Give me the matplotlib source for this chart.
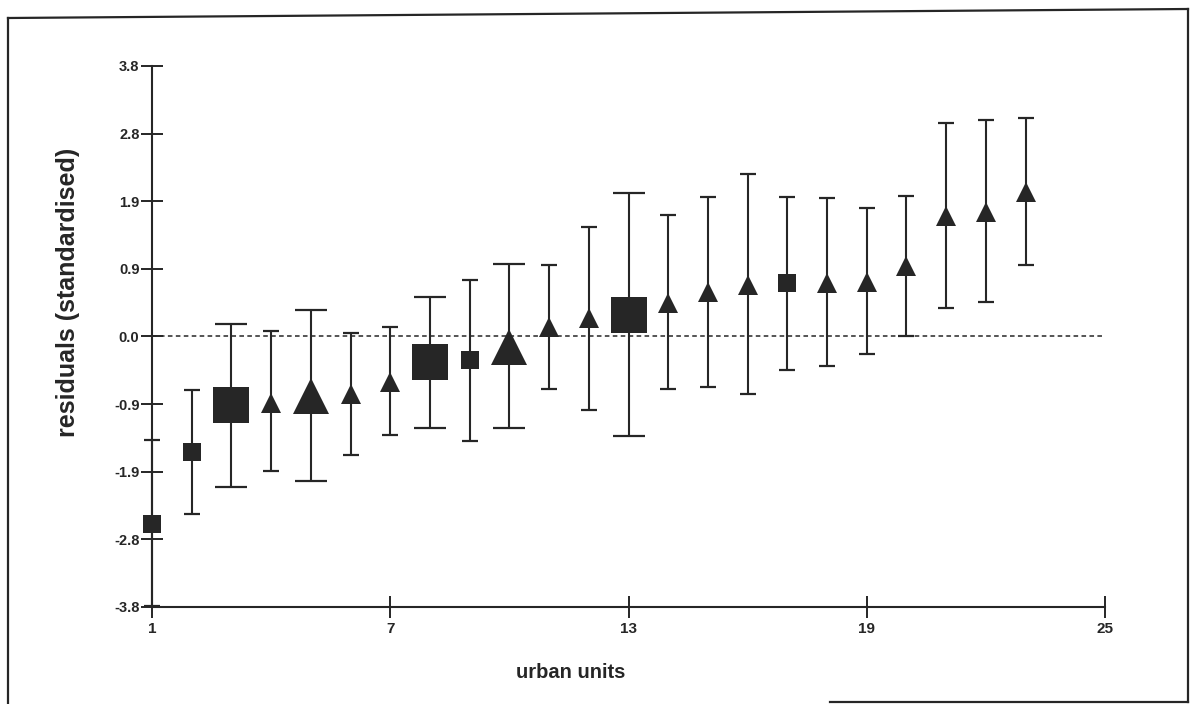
import matplotlib
matplotlib.use("Agg")
import matplotlib.pyplot as plt
import numpy as np
from matplotlib.lines import Line2D

plt.rcParams['font.family'] = ['Liberation Sans', 'DejaVu Sans']

# urban units 1..23, residual with lower / upper interval
units = list(range(1, 24))
residual = [-2.63, -1.62, -0.96, -0.93, -0.83, -0.81, -0.64, -0.36, -0.33, -0.15,
            0.13, 0.26, 0.30, 0.47, 0.62, 0.73, 0.75, 0.75, 0.76, 0.99,
            1.69, 1.75, 2.03]
upper = [-1.46, -0.75, 0.18, 0.07, 0.37, 0.05, 0.13, 0.56, 0.80, 1.02,
         1.01, 1.54, 2.01, 1.70, 1.96, 2.28, 1.96, 1.94, 1.80, 1.98,
         3.00, 3.04, 3.07]
lower = [-3.78, -2.50, -2.12, -1.89, -2.03, -1.66, -1.38, -1.28, -1.47, -1.28,
         -0.74, -1.03, -1.40, -0.74, -0.71, -0.81, -0.47, -0.42, -0.24, 0.01,
         0.40, 0.49, 1.01]
unit_type = ['square', 'square', 'square', 'triangle', 'triangle', 'triangle',
             'triangle', 'square', 'square', 'triangle', 'triangle', 'triangle',
             'square', 'triangle', 'triangle', 'triangle', 'square', 'triangle',
             'triangle', 'triangle', 'triangle', 'triangle', 'triangle']
size_class = ['small', 'small', 'large', 'small', 'large', 'small', 'small',
              'large', 'small', 'large', 'small', 'small', 'large', 'small',
              'small', 'small', 'small', 'small', 'small', 'small', 'small',
              'small', 'small']

ytick_vals = [-3.8, -2.85, -1.9, -0.95, 0.0, 0.95, 1.9, 2.85, 3.8]
ytick_labels = ['-3.8', '-2.8', '-1.9', '-0.9', '0.0', '0.9', '1.9', '2.8', '3.8']
xtick_vals = [1, 7, 13, 19, 25]

ink = '#262626'
marker_of = {'square': 's', 'triangle': '^'}
msize = {('square', 'small'): 13.5, ('square', 'large'): 26,
         ('triangle', 'small'): 14, ('triangle', 'large'): 25.5}
capsize = {'small': 6.0, 'large': 11.8}

fig = plt.figure(figsize=(11.94, 7.04), dpi=100)
ax = fig.add_axes([0.1273, 0.1378, 0.7982, 0.7685])

x = np.array(units)
r = np.array(residual)
lo = r - np.array(lower)
hi = np.array(upper) - r

for sc in ['small', 'large']:
    idx = [i for i in range(len(units)) if size_class[i] == sc]
    ax.errorbar(x[idx], r[idx], yerr=[lo[idx], hi[idx]], fmt='none',
                ecolor=ink, elinewidth=1.5, capsize=capsize[sc], capthick=1.6,
                zorder=2, clip_on=False)

for i in range(len(units)):
    ax.plot(x[i], r[i], marker=marker_of[unit_type[i]],
            markersize=msize[(unit_type[i], size_class[i])],
            color=ink, markeredgewidth=0, linestyle='none', zorder=3,
            clip_on=False)

ax.axhline(0, xmin=0, xmax=1, color=ink, linestyle=(0, (3, 2.2)), linewidth=1.1,
           zorder=1)

ax.set_xlim(1, 25)
ax.set_ylim(-3.8, 3.8)
ax.set_xticks(xtick_vals)
ax.set_xticklabels([str(v) for v in xtick_vals], fontsize=11, fontweight='bold',
                   color=ink)
ax.set_yticks(ytick_vals)
ax.set_yticklabels(ytick_labels, fontsize=10.5, fontweight='bold', color=ink)
ax.tick_params(axis='both', direction='inout', length=16, width=1.4, color=ink)
ax.tick_params(axis='y', pad=1)
ax.tick_params(axis='x', pad=3)

for s in ['top', 'right']:
    ax.spines[s].set_visible(False)
for s in ['left', 'bottom']:
    ax.spines[s].set_linewidth(1.5)
    ax.spines[s].set_color(ink)

fig.text(571 / 1194, 1 - 672 / 704, 'urban units', ha='center', va='center',
         fontsize=14.5, fontweight='bold', color=ink)
fig.text(68 / 1194, 1 - 292 / 704, 'residuals (standardised)', ha='center',
         va='center', rotation=90, fontsize=18, fontweight='bold', color=ink)

# scanned page frame
frame = [([8, 8], [18, 704]), ([8, 1188], [18, 9]), ([1188, 1188], [9, 702]),
         ([830, 1188], [702, 702])]
for fx, fy in frame:
    fig.add_artist(Line2D([v / 1194 for v in fx], [1 - v / 704 for v in fy],
                          color=ink, linewidth=1.6))

fig.savefig('out.png', dpi=100)
